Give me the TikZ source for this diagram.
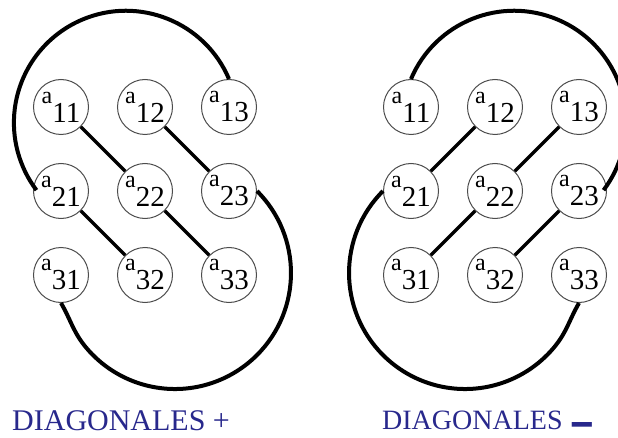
\documentclass[tikz,border=0pt]{standalone}
\usepackage{fontspec}
\setmainfont{Liberation Serif}
\usetikzlibrary{positioning}
\definecolor{capblue}{RGB}{40,40,140}
\newcommand{\elem}[1]{\raisebox{19pt}{\fontsize{24pt}{24pt}\selectfont a}{\fontsize{29pt}{29pt}\selectfont #1}}

\begin{document}
\begin{tikzpicture}[
    x=1pt, y=1pt,
    node distance=28pt,
    entry/.style={draw=black!70, line width=1pt, circle, minimum size=55pt, inner sep=0pt},
    diagline/.style={line width=3.2pt},
    bigcurve/.style={line width=4pt},
    captext/.style={text=capblue, anchor=base west, inner sep=0pt}
]
\useasboundingbox (0,0) rectangle (618,437);
\clip (0,0) rectangle (618,437);

\node[entry] (l11) at (61,330) {\elem{11}};
\node[entry, right=of l11] (l12) {\elem{12}};
\node[entry, right=of l12] (l13) {\elem{13}};
\node[entry, below=of l11] (l21) {\elem{21}};
\node[entry, right=of l21] (l22) {\elem{22}};
\node[entry, right=of l22] (l23) {\elem{23}};
\node[entry, below=of l21] (l31) {\elem{31}};
\node[entry, right=of l31] (l32) {\elem{32}};
\node[entry, right=of l32] (l33) {\elem{33}};

\draw[diagline] (l11) -- (l22);
\draw[diagline] (l12) -- (l23);
\draw[diagline] (l21) -- (l32);
\draw[diagline] (l22) -- (l33);
\draw[bigcurve] (l13.north) arc[start angle=23, end angle=217, radius=112];
\draw[bigcurve] (l23.east) arc[start angle=45, end angle=-140, radius=116] to[out=130, in=-60] (l31.south);

\node[entry] (r11) at (411,330) {\elem{11}};
\node[entry, right=of r11] (r12) {\elem{12}};
\node[entry, right=of r12] (r13) {\elem{13}};
\node[entry, below=of r11] (r21) {\elem{21}};
\node[entry, right=of r21] (r22) {\elem{22}};
\node[entry, right=of r22] (r23) {\elem{23}};
\node[entry, below=of r21] (r31) {\elem{31}};
\node[entry, right=of r31] (r32) {\elem{32}};
\node[entry, right=of r32] (r33) {\elem{33}};

\draw[diagline] (r12) -- (r21);
\draw[diagline] (r13) -- (r22);
\draw[diagline] (r22) -- (r31);
\draw[diagline] (r23) -- (r32);
\draw[bigcurve] (r11.north) arc[start angle=157, end angle=-37, radius=112];
\draw[bigcurve] (r21.west) arc[start angle=135, end angle=320, radius=116] to[out=50, in=-120] (r33.south);

\node[captext, font=\fontsize{30pt}{30pt}\selectfont] (capplus) at (12,7) {DIAGONALES +};
\node[captext, font=\fontsize{28pt}{28pt}\selectfont] (capminus) at (382,8) {DIAGONALES\hspace{10pt}\raisebox{-11pt}{\scalebox{1.4}[2.4]{\textbf{–}}}};
\end{tikzpicture}
\end{document}
